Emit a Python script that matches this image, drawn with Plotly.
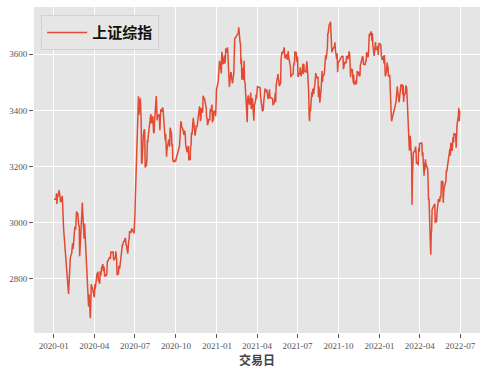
import plotly.graph_objects as go

# --- data: Shanghai Composite daily closes (read/estimated from chart) ---
months = ["2020-01", "2020-02", "2020-03", "2020-04", "2020-05", "2020-06",
          "2020-07", "2020-08", "2020-09", "2020-10", "2020-11", "2020-12",
          "2021-01", "2021-02", "2021-03", "2021-04", "2021-05", "2021-06",
          "2021-07", "2021-08", "2021-09", "2021-10", "2021-11", "2021-12",
          "2022-01", "2022-02", "2022-03", "2022-04", "2022-05", "2022-06"]

days = [
    [2, 3, 6, 7, 8, 9, 10, 13, 14, 15, 16, 17, 20, 21, 22, 23],
    [3, 4, 5, 6, 7, 10, 11, 12, 13, 14, 17, 18, 19, 20, 21, 24, 25, 26, 27, 28],
    [2, 3, 4, 5, 6, 9, 10, 11, 12, 13, 16, 17, 18, 19, 20, 23, 24, 25, 26, 27, 30, 31],
    [1, 2, 3, 7, 8, 9, 10, 13, 14, 15, 16, 17, 20, 21, 22, 23, 24, 27, 28, 29, 30],
    [6, 7, 8, 11, 12, 13, 14, 15, 18, 19, 20, 21, 22, 25, 26, 27, 28, 29],
    [1, 2, 3, 4, 5, 8, 9, 10, 11, 12, 15, 16, 17, 18, 19, 22, 23, 24, 29, 30],
    [1, 2, 3, 6, 7, 8, 9, 10, 13, 14, 15, 16, 17, 20, 21, 22, 23, 24, 27, 28, 29, 30, 31],
    [3, 4, 5, 6, 7, 10, 11, 12, 13, 14, 17, 18, 19, 20, 21, 24, 25, 26, 27, 28, 31],
    [1, 2, 3, 4, 7, 8, 9, 10, 11, 14, 15, 16, 17, 18, 21, 22, 23, 24, 25, 28, 29, 30],
    [9, 12, 13, 14, 15, 16, 19, 20, 21, 22, 23, 26, 27, 28, 29, 30],
    [2, 3, 4, 5, 6, 9, 10, 11, 12, 13, 16, 17, 18, 19, 20, 23, 24, 25, 26, 27, 30],
    [1, 2, 3, 4, 7, 8, 9, 10, 11, 14, 15, 16, 17, 18, 21, 22, 23, 24, 25, 28, 29, 30, 31],
    [4, 5, 6, 7, 8, 11, 12, 13, 14, 15, 18, 19, 20, 21, 22, 25, 26, 27, 28, 29],
    [1, 2, 3, 4, 5, 8, 9, 10, 18, 19, 22, 23, 24, 25, 26],
    [1, 2, 3, 4, 5, 8, 9, 10, 11, 12, 15, 16, 17, 18, 19, 22, 23, 24, 25, 26, 29, 30, 31],
    [1, 2, 6, 7, 8, 9, 12, 13, 14, 15, 16, 19, 20, 21, 22, 23, 26, 27, 28, 29, 30],
    [6, 7, 10, 11, 12, 13, 14, 17, 18, 19, 20, 21, 24, 25, 26, 27, 28, 31],
    [1, 2, 3, 4, 7, 8, 9, 10, 11, 15, 16, 17, 18, 21, 22, 23, 24, 25, 28, 29, 30],
    [1, 2, 5, 6, 7, 8, 9, 12, 13, 14, 15, 16, 19, 20, 21, 22, 23, 26, 27, 28, 29, 30],
    [2, 3, 4, 5, 6, 9, 10, 11, 12, 13, 16, 17, 18, 19, 20, 23, 24, 25, 26, 27, 30, 31],
    [1, 2, 3, 6, 7, 8, 9, 10, 13, 14, 15, 16, 17, 22, 23, 24, 27, 28, 29, 30],
    [8, 11, 12, 13, 14, 15, 18, 19, 20, 21, 22, 25, 26, 27, 28, 29],
    [1, 2, 3, 4, 5, 8, 9, 10, 11, 12, 15, 16, 17, 18, 19, 22, 23, 24, 25, 26, 29, 30],
    [1, 2, 3, 6, 7, 8, 9, 10, 13, 14, 15, 16, 17, 20, 21, 22, 23, 24, 27, 28, 29, 30, 31],
    [4, 5, 6, 7, 10, 11, 12, 13, 14, 17, 18, 19, 20, 21, 24, 25, 26, 27, 28],
    [7, 8, 9, 10, 11, 14, 15, 16, 17, 18, 21, 22, 23, 24, 25, 28],
    [1, 2, 3, 4, 7, 8, 9, 10, 11, 14, 15, 16, 17, 18, 21, 22, 23, 24, 25, 28, 29, 30, 31],
    [1, 6, 7, 8, 11, 12, 13, 14, 15, 18, 19, 20, 21, 22, 25, 26, 27, 28, 29],
    [5, 6, 9, 10, 11, 12, 13, 16, 17, 18, 19, 20, 23, 24, 25, 26, 27, 30, 31],
    [1, 2, 6, 7, 8, 9, 10, 13, 14, 15, 16, 17, 20, 21, 22, 23, 24, 27, 28, 29, 30],
]

closes = [
    [3085.20, 3083.79, 3083.41, 3104.80, 3066.89, 3094.88, 3092.29, 3115.57, 3106.82, 3090.04, 3074.08, 3075.50, 3095.79, 3052.14, 3060.75, 2976.53],
    [2746.61, 2783.29, 2818.09, 2866.51, 2875.96, 2890.49, 2901.67, 2926.90, 2906.07, 2917.01, 2983.62, 2984.97, 2975.40, 3030.15, 3039.67, 3031.23, 3013.05, 2987.93, 2991.33, 2880.30],
    [2970.93, 2992.90, 3011.67, 3071.68, 3034.51, 2943.29, 2996.76, 2968.52, 2923.49, 2887.43, 2789.25, 2779.64, 2728.76, 2702.13, 2745.62, 2660.17, 2722.44, 2781.59, 2764.91, 2772.20, 2747.21, 2750.30],
    [2734.52, 2780.64, 2763.99, 2820.76, 2815.37, 2825.90, 2796.63, 2783.05, 2827.28, 2811.17, 2819.94, 2838.49, 2852.55, 2827.01, 2843.98, 2838.50, 2808.53, 2815.49, 2810.02, 2822.44, 2860.08],
    [2878.14, 2871.52, 2895.34, 2894.80, 2891.56, 2898.05, 2870.34, 2868.46, 2875.42, 2898.58, 2883.74, 2867.92, 2813.77, 2817.97, 2846.55, 2836.80, 2839.13, 2852.35],
    [2915.43, 2921.40, 2923.37, 2919.25, 2930.80, 2937.77, 2943.75, 2943.32, 2920.90, 2919.74, 2890.03, 2931.75, 2935.87, 2939.32, 2967.63, 2965.27, 2979.55, 2979.65, 2961.52, 2984.67],
    [3025.98, 3090.57, 3152.81, 3332.88, 3345.34, 3403.44, 3450.59, 3383.32, 3443.29, 3414.62, 3361.30, 3210.10, 3214.13, 3314.15, 3320.90, 3333.16, 3325.11, 3196.77, 3205.23, 3227.96, 3294.55, 3286.82, 3310.01],
    [3367.97, 3371.69, 3377.56, 3386.46, 3354.04, 3379.25, 3340.29, 3319.27, 3320.73, 3360.10, 3438.80, 3451.09, 3408.13, 3363.90, 3380.68, 3385.64, 3373.58, 3329.74, 3350.44, 3403.81, 3395.68],
    [3410.61, 3404.80, 3384.98, 3355.37, 3292.59, 3316.42, 3254.63, 3234.82, 3260.35, 3278.81, 3295.68, 3283.92, 3270.44, 3338.09, 3316.94, 3274.30, 3279.71, 3223.18, 3219.42, 3217.53, 3224.36, 3218.05],
    [3272.08, 3358.47, 3359.75, 3340.16, 3338.25, 3336.36, 3312.67, 3328.10, 3325.03, 3312.50, 3278.00, 3251.12, 3254.32, 3269.24, 3272.74, 3224.53],
    [3225.12, 3271.07, 3277.44, 3320.13, 3312.16, 3373.73, 3360.15, 3342.20, 3338.68, 3310.10, 3346.97, 3339.90, 3347.30, 3363.09, 3377.73, 3414.49, 3402.82, 3362.33, 3369.73, 3408.31, 3391.76],
    [3451.94, 3449.38, 3442.14, 3444.58, 3416.60, 3410.18, 3371.96, 3373.28, 3347.19, 3369.12, 3367.23, 3366.98, 3404.87, 3394.90, 3420.57, 3356.78, 3382.32, 3363.11, 3396.56, 3397.29, 3379.04, 3414.45, 3473.07],
    [3502.96, 3528.68, 3550.88, 3576.20, 3570.11, 3531.50, 3608.34, 3598.65, 3565.90, 3566.38, 3596.22, 3566.12, 3583.09, 3621.26, 3606.75, 3624.24, 3569.43, 3573.34, 3505.18, 3483.07],
    [3533.68, 3533.71, 3517.31, 3501.86, 3496.33, 3532.44, 3603.49, 3655.09, 3675.36, 3696.17, 3642.44, 3636.36, 3564.08, 3585.05, 3509.08],
    [3551.40, 3508.59, 3576.90, 3503.49, 3501.99, 3421.41, 3359.29, 3357.74, 3436.83, 3453.08, 3419.95, 3446.73, 3445.55, 3463.07, 3404.66, 3443.44, 3411.51, 3367.06, 3363.59, 3418.33, 3435.30, 3456.68, 3441.91],
    [3466.33, 3484.39, 3482.55, 3479.63, 3482.48, 3450.68, 3412.95, 3396.47, 3416.45, 3398.99, 3426.62, 3477.55, 3472.94, 3472.93, 3465.11, 3474.17, 3441.17, 3442.61, 3457.07, 3474.90, 3446.86],
    [3441.28, 3418.87, 3427.99, 3441.85, 3462.75, 3429.54, 3490.38, 3517.62, 3529.01, 3510.96, 3506.94, 3486.56, 3497.28, 3581.34, 3593.36, 3608.85, 3600.78, 3615.48],
    [3624.71, 3597.14, 3584.22, 3591.84, 3599.54, 3580.11, 3591.40, 3610.86, 3589.75, 3556.56, 3518.33, 3525.10, 3525.10, 3529.18, 3557.41, 3566.65, 3566.22, 3607.56, 3606.37, 3573.18, 3591.20],
    [3588.78, 3518.76, 3534.32, 3530.26, 3553.72, 3525.50, 3524.09, 3547.84, 3566.51, 3528.50, 3564.59, 3539.30, 3539.12, 3536.79, 3562.70, 3574.73, 3550.40, 3467.44, 3381.18, 3361.59, 3411.72, 3397.36],
    [3464.29, 3447.99, 3477.22, 3466.56, 3458.23, 3494.63, 3529.93, 3532.62, 3524.74, 3516.30, 3517.34, 3446.98, 3485.29, 3465.55, 3427.33, 3477.13, 3514.47, 3540.38, 3501.66, 3522.16, 3528.15, 3543.94],
    [3567.10, 3597.04, 3581.73, 3621.86, 3676.59, 3675.19, 3693.13, 3703.11, 3715.37, 3662.60, 3656.22, 3607.09, 3613.97, 3628.49, 3642.22, 3613.07, 3582.83, 3602.22, 3536.29, 3568.17],
    [3592.17, 3591.71, 3546.94, 3561.76, 3558.28, 3572.37, 3568.14, 3593.15, 3587.00, 3594.78, 3582.60, 3609.86, 3597.64, 3562.31, 3518.42, 3547.34],
    [3544.48, 3505.63, 3498.54, 3526.87, 3491.57, 3498.63, 3507.00, 3492.46, 3532.79, 3539.10, 3533.30, 3521.79, 3537.37, 3520.71, 3560.37, 3582.08, 3589.09, 3592.70, 3584.18, 3564.09, 3562.70, 3563.89],
    [3576.89, 3573.84, 3607.43, 3589.31, 3595.09, 3637.57, 3673.04, 3666.35, 3681.08, 3661.53, 3647.63, 3675.02, 3632.36, 3593.60, 3625.13, 3622.62, 3643.34, 3618.05, 3615.97, 3630.11, 3597.00, 3619.19, 3639.78],
    [3632.33, 3595.18, 3586.08, 3579.54, 3593.52, 3567.44, 3597.43, 3555.26, 3521.26, 3541.67, 3569.91, 3558.18, 3555.06, 3522.57, 3524.11, 3433.06, 3455.67, 3394.25, 3361.44],
    [3429.58, 3452.63, 3479.95, 3485.91, 3462.95, 3428.88, 3446.09, 3465.83, 3468.04, 3490.76, 3490.61, 3457.15, 3489.15, 3429.96, 3451.41, 3462.31],
    [3488.83, 3484.19, 3481.11, 3447.65, 3372.86, 3293.53, 3256.39, 3296.09, 3309.75, 3223.54, 3063.97, 3170.71, 3215.04, 3251.07, 3253.69, 3259.86, 3271.03, 3250.26, 3212.24, 3214.50, 3203.94, 3266.60, 3252.20],
    [3282.72, 3283.43, 3236.70, 3251.85, 3167.13, 3213.33, 3186.82, 3225.64, 3211.24, 3195.52, 3194.03, 3151.05, 3079.81, 3086.92, 2928.51, 2886.43, 2958.28, 2975.48, 3047.06],
    [3067.76, 3001.56, 3004.14, 3035.84, 3058.70, 3054.99, 3084.28, 3073.75, 3093.70, 3085.98, 3096.96, 3146.86, 3146.57, 3070.93, 3107.46, 3123.11, 3130.24, 3149.06, 3186.43],
    [3182.16, 3195.46, 3236.37, 3241.76, 3263.79, 3238.95, 3284.83, 3255.55, 3288.91, 3305.41, 3285.38, 3316.79, 3315.43, 3306.72, 3267.20, 3320.15, 3349.75, 3379.19, 3409.21, 3361.52, 3398.62],
]

x_ticks = ["2020-01-01", "2020-04-01", "2020-07-01", "2020-10-01", "2021-01-01",
           "2021-04-01", "2021-07-01", "2021-10-01", "2022-01-01", "2022-04-01",
           "2022-07-01"]
x_tick_labels = ["2020-01", "2020-04", "2020-07", "2020-10", "2021-01", "2021-04",
                 "2021-07", "2021-10", "2022-01", "2022-04", "2022-07"]
y_ticks = [2800, 3000, 3200, 3400, 3600]

series_name = "上证综指"
x_title = "交易日"

# --- build flat series ---
dates, values = [], []
for m, ds, vs in zip(months, days, closes):
    assert len(ds) == len(vs), m
    for d, v in zip(ds, vs):
        dates.append(f"{m}-{d:02d}")
        values.append(v)

fig = go.Figure()
fig.add_trace(go.Scatter(
    x=dates, y=values, mode="lines", name=series_name,
    line=dict(color="#E24A33", width=1.5),
    showlegend=True,
))

tick_font = dict(family="Liberation Serif", size=9, color="#555555")

fig.update_layout(
    width=486, height=371,
    margin=dict(l=34, r=6, t=7, b=38),
    paper_bgcolor="white",
    plot_bgcolor="#E5E5E5",
    showlegend=True,
    legend=dict(
        x=0.016, y=0.975, xanchor="left", yanchor="top",
        itemwidth=40,
        bgcolor="rgba(229,229,229,0.9)", bordercolor="#D2D2D2", borderwidth=1,
        font=dict(family="Noto Sans CJK SC", size=15, color="#111111", weight="bold"),
    ),
    xaxis=dict(
        type="date",
        range=["2019-11-17 12:00", "2022-08-14 12:00"],
        tickvals=x_ticks, ticktext=x_tick_labels,
        showgrid=True, gridcolor="white", gridwidth=1,
        zeroline=False, showline=False,
        ticks="outside", ticklen=4, tickwidth=1, tickcolor="#555555",
        tickfont=tick_font,
        title=dict(text=x_title, standoff=6,
                   font=dict(family="Noto Sans CJK SC", size=12, color="#444444", weight="bold")),
    ),
    yaxis=dict(
        range=[2607.4, 3768.1],
        tickvals=y_ticks,
        showgrid=True, gridcolor="white", gridwidth=1,
        zeroline=False, showline=False,
        ticks="outside", ticklen=4, tickwidth=1, tickcolor="#555555",
        tickfont=tick_font,
    ),
)

fig.write_html("out.html")
